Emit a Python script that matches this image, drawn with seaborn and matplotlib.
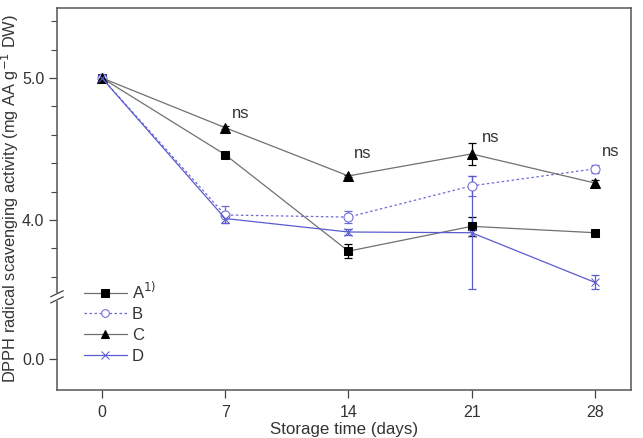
import numpy as np
import pandas as pd
import seaborn as sns
import matplotlib.pyplot as plt
from matplotlib.ticker import FixedLocator

# DPPH radical scavenging activity during storage

days = [0, 7, 14, 21, 28]
A = [5.0, 4.46, 3.78, 3.955, 3.91]
A_err = [0, 0.01, 0.05, 0.065, 0.02]
B = [5.0, 4.035, 4.02, 4.24, 4.36]
B_err = [0, 0.06, 0.04, 0.07, 0.03]
C = [5.0, 4.65, 4.31, 4.465, 4.26]
C_err = [0, 0.01, 0.01, 0.08, 0.02]
D = [5.0, 4.01, 3.915, 3.91, 3.56]
D_err = [0, 0.03, 0.02, 0.40, 0.05]

ns_x = [7.4, 14.3, 21.6, 28.4]
ns_y = [4.75, 4.47, 4.58, 4.48]

sns.set_style('ticks')
plt.rcParams['font.family'] = ['Liberation Sans', 'DejaVu Sans']
plt.rcParams['font.size'] = 11

# broken y axis: 0.47 .. 3.49 is squeezed out
def fwd(y):
    y = np.asarray(y, dtype=float)
    return np.where(y <= 0.47, y, np.where(y >= 3.49, y - 3.02, 0.47))

def inv(y):
    y = np.asarray(y, dtype=float)
    return np.where(y <= 0.47, y, y + 3.02)

fig = plt.figure(figsize=(6.43, 4.38), dpi=100)
ax = fig.add_axes([57/643, 1 - 390/438, (631-57)/643, (390-8)/438])
ax.set_yscale('function', functions=(fwd, inv))

series = [
    ('A$^{1)}$', A, A_err, dict(color='#707070', marker='s', markersize=6, markerfacecolor='black',
                                markeredgecolor='black', linestyle='-')),
    ('B', B, B_err, dict(color='#6b6bd6', marker='o', markersize=6.5, markerfacecolor='white',
                         markeredgecolor='#6b6bd6', linestyle=(0, (2, 2)))),
    ('C', C, C_err, dict(color='#707070', marker='^', markersize=7, markerfacecolor='black',
                         markeredgecolor='black', linestyle='-')),
    ('D', D, D_err, dict(color='#5b5bd0', marker='x', markersize=6, markeredgecolor='#5b5bd0',
                         linestyle='-')),
]

for name, vals, err, st in series:
    df = pd.DataFrame({'day': days, 'val': vals})
    ecol = st['markeredgecolor'] if name in ('B', 'D') else 'black'
    ax.errorbar(days, vals, yerr=err, fmt='none', ecolor=ecol, elinewidth=0.9,
                capsize=3, capthick=0.9, zorder=2)
    sns.lineplot(data=df, x='day', y='val', ax=ax, label=name, linewidth=0.9, zorder=3, **st)

for x, y in zip(ns_x, ns_y):
    ax.text(x, y, 'ns', ha='left', va='center', fontsize=12, color='#333333')

ax.set_xlim(-2.55, 30.05)
ax.set_ylim(-0.218, 5.493)
ax.set_xticks(days)
ax.yaxis.set_major_locator(FixedLocator([0.0, 4.0, 5.0]))
ax.yaxis.set_minor_locator(FixedLocator([3.6, 3.8, 4.2, 4.4, 4.6, 4.8, 5.2, 5.4]))
ax.set_yticklabels(['0.0', '4.0', '5.0'])
ax.yaxis.set_minor_formatter(plt.NullFormatter())
ax.tick_params(which='major', direction='out', length=6, width=0.9, colors='#444444',
               labelcolor='#333333', labelsize=11.5, pad=3)
ax.tick_params(axis='x', which='major', pad=5)
ax.tick_params(which='minor', direction='out', length=4, width=0.8, colors='#444444')
ax.tick_params(axis='x', which='minor', bottom=False)
for s in ax.spines.values():
    s.set_visible(True)
    s.set_color('#555555')
    s.set_linewidth(1.1)

ax.set_xlabel('Storage time (days)', fontsize=12.2, color='#333333', labelpad=1)
ax.set_ylabel('DPPH radical scavenging activity (mg AA g$^{-1}$ DW)', fontsize=11.8,
              color='#333333')
ax.yaxis.set_label_coords(-0.062, 0.5)

# break marks on the left spine
ax.plot([0, 0], [0.238, 0.250], transform=ax.transAxes, color='white', linewidth=3,
        clip_on=False, zorder=5)
for yb in [0.236, 0.252]:
    ax.plot([-0.011, 0.011], [yb - 0.008, yb + 0.008], transform=ax.transAxes,
            color='#444444', linewidth=0.9, clip_on=False, zorder=6)

leg = ax.legend(loc='upper left', bbox_to_anchor=(0.035, 0.305), frameon=False,
                handlelength=2.6, handletextpad=0.3, labelspacing=0.35, fontsize=12,
                markerscale=0.85, borderaxespad=0)
for t in leg.get_texts():
    t.set_color('#333333')

fig.savefig('out.png', dpi=100)
